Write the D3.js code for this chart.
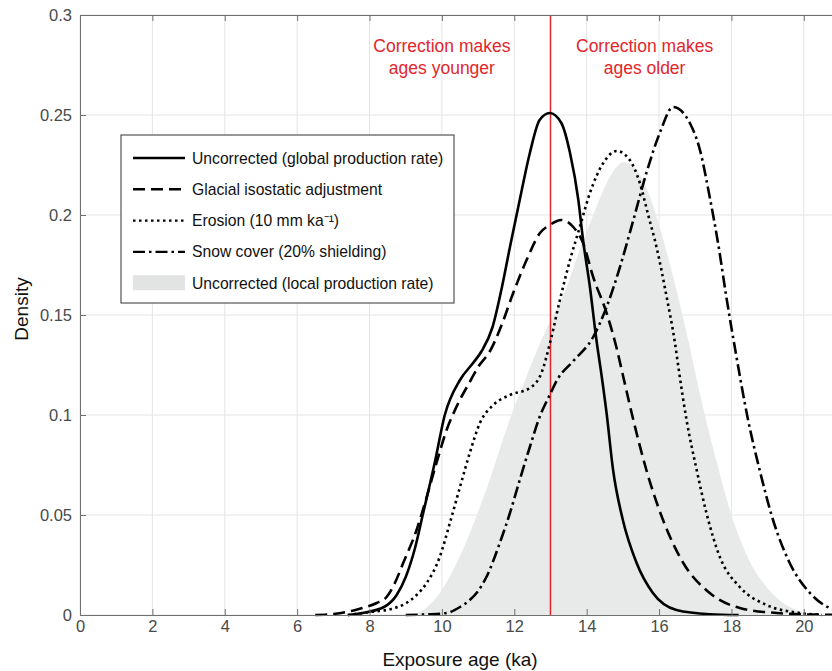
<!DOCTYPE html>
<html>
<head>
<meta charset="utf-8">
<script src="https://cdn.jsdelivr.net/npm/d3@7"></script>
<style>
  body { margin: 0; background: #fff; }
  svg { display: block; font-family: "Liberation Sans", Arial, sans-serif; }
</style>
</head>
<body>
<div id="chart"></div>
<script>
// Data: [exposure age (ka), density]
const uncorrectedGlobal = [[7.4,0],[7.8,0.001],[8.4,0.004],[8.75,0.01],[9.0,0.019],[9.25,0.033],[9.47,0.05],[9.8,0.076],[10.08,0.1],[10.5,0.1175],[10.86,0.126],[11.1,0.132],[11.4,0.144],[11.66,0.164],[11.88,0.184],[12.15,0.2075],[12.43,0.231],[12.7,0.2475],[12.98,0.251],[13.3,0.246],[13.54,0.231],[13.77,0.2075],[13.9,0.1875],[14.09,0.164],[14.27,0.1375],[14.41,0.12],[14.55,0.101],[14.73,0.0725],[15.0,0.0475],[15.38,0.026],[15.83,0.011],[16.48,0.0025],[17.4,0.0004],[18.2,0]];
const glacialIsostatic = [[6.5,0],[7.0,0.0005],[7.5,0.002],[7.8,0.0035],[8.2,0.006],[8.47,0.009],[8.7,0.016],[8.93,0.026],[9.3,0.0425],[9.58,0.059],[9.85,0.076],[10.13,0.0925],[10.4,0.104],[10.8,0.1175],[11.0,0.124],[11.33,0.132],[11.65,0.145],[11.97,0.161],[12.34,0.1775],[12.71,0.191],[12.98,0.195],[13.3,0.1975],[13.63,0.194],[13.9,0.186],[14.18,0.169],[14.55,0.151],[14.82,0.134],[15.0,0.12],[15.29,0.0975],[15.65,0.0725],[16.11,0.0475],[16.67,0.026],[17.4,0.011],[18.23,0.0035],[19.25,0.001],[20.0,0.0003],[21.5,0]];
const erosion = [[7.4,0],[8.1,0.0017],[8.6,0.003],[9.02,0.006],[9.3,0.01],[9.58,0.016],[9.94,0.029],[10.22,0.046],[10.5,0.064],[10.77,0.081],[11.05,0.096],[11.42,0.105],[11.88,0.11],[12.43,0.1135],[12.75,0.121],[13.0,0.137],[13.26,0.1575],[13.54,0.1775],[13.81,0.194],[14.09,0.211],[14.46,0.226],[14.83,0.232],[15.19,0.2275],[15.47,0.216],[15.7,0.2],[15.93,0.184],[16.21,0.159],[16.44,0.136],[16.55,0.122],[16.76,0.0975],[17.04,0.0725],[17.31,0.051],[17.68,0.029],[18.23,0.014],[18.97,0.005],[19.89,0.001],[20.5,0]];
const snowCover = [[9.0,0],[9.6,0.0003],[10.13,0.001],[10.5,0.004],[10.77,0.0075],[11.0,0.012],[11.23,0.019],[11.6,0.036],[11.88,0.051],[12.15,0.0675],[12.43,0.084],[12.7,0.099],[12.98,0.11],[13.2,0.118],[13.63,0.127],[14.18,0.139],[14.55,0.154],[14.92,0.174],[15.29,0.1975],[15.65,0.221],[16.02,0.241],[16.39,0.254],[16.85,0.246],[17.13,0.2325],[17.4,0.209],[17.63,0.186],[17.86,0.159],[18.14,0.129],[18.46,0.0975],[18.78,0.0725],[19.15,0.0475],[19.61,0.026],[20.17,0.011],[20.72,0.0035],[21.5,0.0005]];
const uncorrectedLocal = [[9.2,0],[9.6,0.004],[9.94,0.011],[10.3,0.022],[10.68,0.037],[11.05,0.054],[11.33,0.068],[11.6,0.083],[11.92,0.1],[12.3,0.1175],[12.62,0.132],[12.89,0.143],[13.35,0.1595],[13.81,0.1825],[14.27,0.204],[14.64,0.219],[15.03,0.2265],[15.4,0.222],[15.75,0.209],[16.0,0.195],[16.39,0.169],[16.8,0.138],[17.2,0.105],[17.6,0.076],[18.0,0.05],[18.42,0.03],[18.97,0.014],[19.61,0.004],[20.07,0.001],[20.5,0]];

const xTicks = [0, 2, 4, 6, 8, 10, 12, 14, 16, 18, 20];
const yTicks = [0, 0.05, 0.1, 0.15, 0.2, 0.25, 0.3];
const yTickLabels = ["0", "0.05", "0.1", "0.15", "0.2", "0.25", "0.3"];
const referenceAge = 13;
const legendLabels = ["Uncorrected (global production rate)", "Glacial isostatic adjustment", "Erosion (10 mm ka\u207B\u00B9)", "Snow cover (20% shielding)", "Uncorrected (local production rate)"];

const width = 832, height = 671;
const margin = { top: 15, left: 80, bottom: 56 };
const axisColor = "#707070";
const red = "#e3262b";

const svg = d3.select("#chart").append("svg")
    .attr("width", width)
    .attr("height", height);

const x = d3.scaleLinear().domain([0, 21]).range([margin.left, 840]);
const y = d3.scaleLinear().domain([0, 0.3]).range([height - margin.bottom, margin.top]);

// grid lines
svg.append("g").selectAll("line.gx")
    .data(xTicks)
    .join("line")
    .attr("x1", d => x(d)).attr("x2", d => x(d))
    .attr("y1", y(0)).attr("y2", y(0.3))
    .attr("stroke", "#e5e5e5").attr("stroke-width", 1);
svg.append("g").selectAll("line.gy")
    .data(yTicks)
    .join("line")
    .attr("x1", x(0)).attr("x2", x(21))
    .attr("y1", d => y(d)).attr("y2", d => y(d))
    .attr("stroke", "#e5e5e5").attr("stroke-width", 1);

// local production rate shaded area
svg.append("path")
    .datum(uncorrectedLocal)
    .attr("d", d3.area().x(d => x(d[0])).y0(y(0)).y1(d => y(d[1])).curve(d3.curveMonotoneX))
    .attr("fill", "#e8e9e9");

// reference line
svg.append("line")
    .attr("x1", x(referenceAge)).attr("x2", x(referenceAge))
    .attr("y1", y(0)).attr("y2", y(0.3))
    .attr("stroke", red).attr("stroke-width", 1.5);

const styles = [
    { data: uncorrectedGlobal, dash: null },
    { data: glacialIsostatic, dash: "12,6" },
    { data: erosion, dash: "2.5,3.5" },
    { data: snowCover, dash: "12,4,2.5,4" }
];

const line = d3.line().x(d => x(d[0])).y(d => y(d[1])).curve(d3.curveMonotoneX);

styles.forEach(s => {
    svg.append("path")
        .datum(s.data)
        .attr("d", line)
        .attr("fill", "none")
        .attr("stroke", "#000")
        .attr("stroke-width", 2.6)
        .attr("stroke-dasharray", s.dash);
});

// axes
const xAxis = svg.append("g")
    .attr("transform", `translate(0,${y(0)})`)
    .call(d3.axisBottom(x).tickValues(xTicks).tickSizeInner(-6).tickSizeOuter(0).tickPadding(5));
const xAxisTop = svg.append("g")
    .attr("transform", `translate(0,${y(0.3)})`)
    .call(d3.axisTop(x).tickValues(xTicks).tickSizeInner(-6).tickSizeOuter(0).tickFormat(""));
const yAxis = svg.append("g")
    .attr("transform", `translate(${x(0)},0)`)
    .call(d3.axisLeft(y).tickValues(yTicks).tickSizeInner(-6).tickSizeOuter(0).tickPadding(8)
        .tickFormat((d, i) => yTickLabels[i]));

[xAxis, xAxisTop, yAxis].forEach(g => {
    g.select(".domain").attr("stroke", axisColor);
    g.selectAll(".tick line").attr("stroke", axisColor);
    g.selectAll(".tick text")
        .attr("fill", "#4a4a4a")
        .style("font-size", "16.5px")
        .style("font-family", "Liberation Sans, Arial, sans-serif");
});

// axis labels
svg.append("text")
    .attr("x", x(10.5))
    .attr("y", 666)
    .attr("text-anchor", "middle")
    .style("font-size", "19px")
    .attr("fill", "#111")
    .text("Exposure age (ka)");

svg.append("text")
    .attr("transform", `translate(28,${y(0.153)}) rotate(-90)`)
    .attr("text-anchor", "middle")
    .style("font-size", "19px")
    .attr("fill", "#111")
    .text("Density");

// annotations
const notes = [
    { at: 10, lines: ["Correction makes", "ages younger"] },
    { at: 15.6, lines: ["Correction makes", "ages older"] }
];
notes.forEach(n => {
    n.lines.forEach((t, i) => {
        svg.append("text")
            .attr("x", x(n.at))
            .attr("y", 52 + i * 21.5)
            .attr("text-anchor", "middle")
            .attr("fill", red)
            .style("font-size", "17.5px")
            .text(t);
    });
});

// legend
const legend = svg.append("g").attr("transform", "translate(121,135)");
legend.append("rect")
    .attr("width", 333).attr("height", 168)
    .attr("fill", "#fff")
    .attr("stroke", "#333").attr("stroke-width", 1);

legendLabels.forEach((label, i) => {
    const row = legend.append("g").attr("transform", `translate(0,${23 + i * 31.3})`);
    if (i < 4) {
        row.append("line")
            .attr("x1", 12).attr("x2", 64)
            .attr("stroke", "#000")
            .attr("stroke-width", 2.4)
            .attr("stroke-dasharray", styles[i].dash);
    } else {
        row.append("rect")
            .attr("x", 12).attr("y", -8)
            .attr("width", 52).attr("height", 15)
            .attr("fill", "#e2e3e3");
    }
    row.append("text")
        .attr("x", 71)
        .attr("y", 5.5)
        .style("font-size", "15.7px")
        .attr("fill", "#111")
        .text(label);
});
</script>
</body>
</html>
